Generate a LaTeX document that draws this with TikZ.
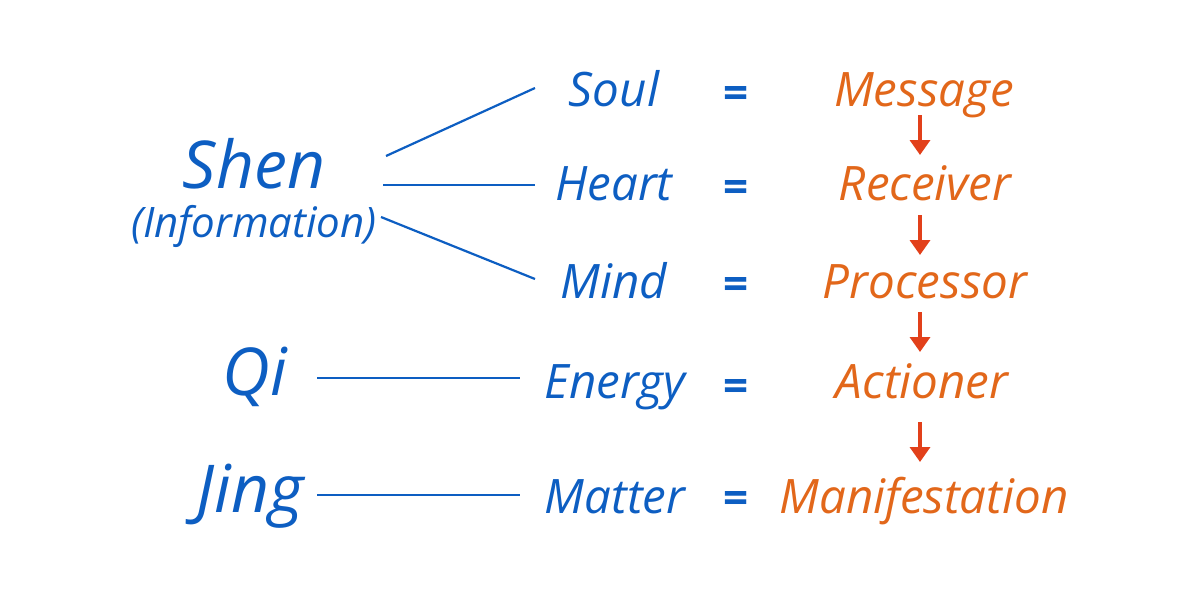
\documentclass[tikz,border=0pt]{standalone}
\usepackage{fontspec}
\setmainfont{Open Sans}
\usetikzlibrary{arrows.meta}
\definecolor{tblue}{HTML}{0D5EC2}
\definecolor{torange}{HTML}{E2671A}
\definecolor{tred}{HTML}{E2401A}
\begin{document}
\begin{tikzpicture}[x=1pt,y=-1pt,
  bt/.style={text=tblue,inner sep=0pt,anchor=base,font=\itshape\fontsize{47.5}{52}\selectfont},
  ot/.style={text=torange,inner sep=0pt,anchor=base,font=\itshape\fontsize{47.5}{52}\selectfont},
  big/.style={text=tblue,inner sep=0pt,anchor=base,font=\itshape\fontsize{66}{70}\selectfont},
  eqs/.style={text=tblue,inner sep=0pt,anchor=base,font=\bfseries\fontsize{44}{50}\selectfont},
  link/.style={draw=tblue,line width=2.2pt},
  flow/.style={draw=tred,line width=3.5pt,-{Triangle[width=20pt,length=15pt]}}]
\useasboundingbox[fill=white] (0,0) rectangle (1200,600);
% left column
\node[big] (shen) at (254,188) {Shen};
\node[bt,font=\itshape\fontsize{42}{46}\selectfont] (info) at (254,237) {(Information)};
\node[big] (qi) at (255,395) {Qi};
\node[big] (jing) at (250,512) {Jing};
% middle column
\node[bt] (soul) at (614,106) {Soul};
\node[bt] (heart) at (614,200) {Heart};
\node[bt] (mind) at (614,298) {Mind};
\node[bt] (energy) at (615,398) {Energy};
\node[bt] (matter) at (615,513) {Matter};
% equals
\node[eqs] (e1) at (736,108) {=};
\node[eqs] (e2) at (736,202) {=};
\node[eqs] (e3) at (736,299) {=};
\node[eqs] (e4) at (736,401) {=};
\node[eqs] (e5) at (736,513) {=};
% right column
\node[ot] (msg) at (924,106) {Message};
\node[ot] (rcv) at (925,200) {Receiver};
\node[ot] (proc) at (925,298) {Processor};
\node[ot] (act) at (922,398) {Actioner};
\node[ot] (man) at (924,513) {Manifestation};
% connector end points
\coordinate (s1) at (386,156); \coordinate (t1) at (535,88);
\coordinate (s2) at (383,185); \coordinate (t2) at (535,185);
\coordinate (s3) at (381,217); \coordinate (t3) at (535,279);
\coordinate (s4) at (317,378); \coordinate (t4) at (520,378);
\coordinate (s5) at (317,495); \coordinate (t5) at (520,495);
\draw[link] (s1) -- (t1);
\draw[link] (s2) -- (t2);
\draw[link] (s3) -- (t3);
\draw[link] (s4) -- (t4);
\draw[link] (s5) -- (t5);
% flow arrows
\coordinate (a1) at (920,115); \coordinate (b1) at (920,155);
\coordinate (a2) at (920,215); \coordinate (b2) at (920,255);
\coordinate (a3) at (920,312); \coordinate (b3) at (920,352);
\coordinate (a4) at (920,422); \coordinate (b4) at (920,462);
\draw[flow] (a1) -- (b1);
\draw[flow] (a2) -- (b2);
\draw[flow] (a3) -- (b3);
\draw[flow] (a4) -- (b4);
\end{tikzpicture}
\end{document}
